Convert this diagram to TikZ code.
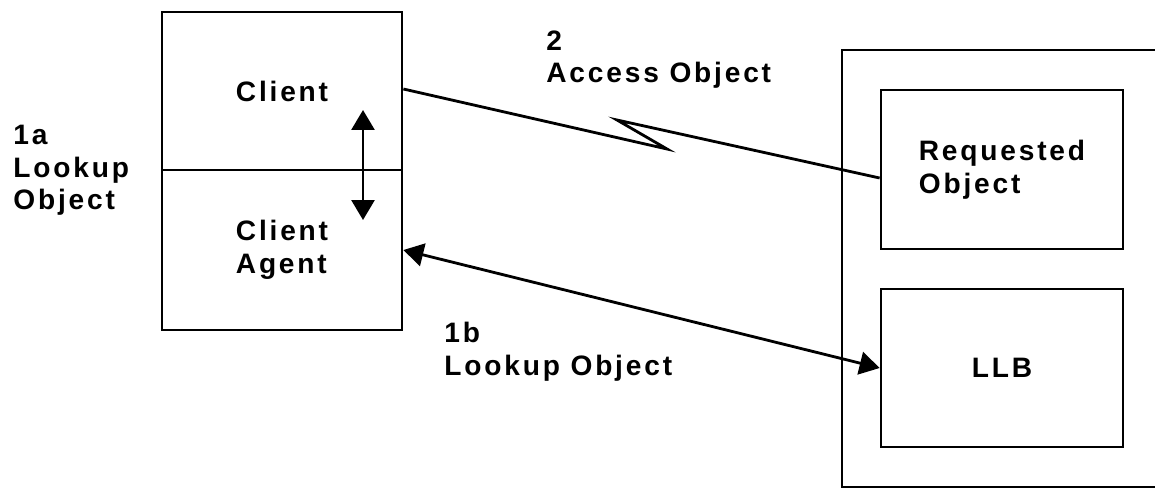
\documentclass[tikz,border=0pt]{standalone}
\usepackage{fontspec}
\setmainfont{Liberation Sans}[LetterSpace=10]
\usepackage{tikz}
\usetikzlibrary{arrows.meta}

\begin{document}
\begin{tikzpicture}[x=0.02cm, y=-0.02cm, line width=1.6pt,
  font=\fontsize{16}{18.5}\selectfont\bfseries,
  >={Triangle[length=0.4cm, width=0.46cm]},
  box/.style={draw, minimum width=4.8cm, align=left, inner sep=0pt},
  lbl/.style={anchor=north west, align=left, inner sep=0pt}]
 \useasboundingbox (0,0) rectangle (1155,490);
 \node [box, minimum height=3.16cm] (client) at (282,91) {Client};
 \node [box, minimum height=3.2cm] (agent) at (282,250) {Client\\Agent};
 \draw (1200,50) -- (842,50) -- (842,487) -- (1200,487);
 \node [box, minimum width=4.84cm, minimum height=3.18cm] (req) at (1002,169.5) {Requested\\Object};
 \node [box, minimum width=4.84cm, minimum height=3.16cm] (llb) at (1002,368) {LLB};
 \coordinate (cTip) at (363,110);
 \coordinate (aTip) at (363,220);
 \draw [<->] (cTip) -- (aTip);
 \coordinate (zigA) at (667,149);
 \coordinate (zigB) at (617,120);
 \draw ([yshift=0.04cm]client.east) -- (zigA) -- (zigB) -- ([yshift=-0.17cm]req.west);
 \draw [<->] (agent.east) -- (llb.west);
 \node [lbl] (access) at (545,29) {2\\Access Object};
 \node [lbl] (lookupA) at (12,124) {1a\\Lookup\\Object};
 \node [lbl] (lookupB) at (443,321) {1b\\Lookup Object};
\end{tikzpicture}
\end{document}
